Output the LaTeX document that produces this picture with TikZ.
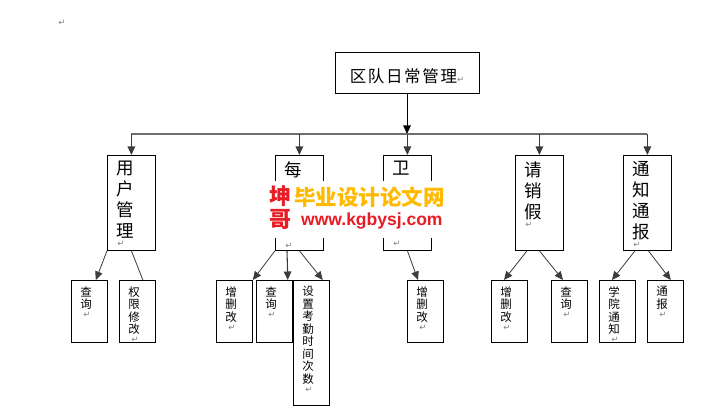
\documentclass[tikz,border=0pt]{standalone}
\usepackage{fontspec}
\usetikzlibrary{arrows.meta,calc}
\newfontfamily\cjk{Noto Sans CJK SC}
\newfontfamily\cjkroot{Noto Sans CJK SC}[LetterSpace=10]
\newfontfamily\retfont{DejaVu Sans}
\newfontfamily\sitefont{Liberation Sans}
\definecolor{busgray}{RGB}{110,110,110}
\definecolor{linkgray}{RGB}{60,60,60}
\definecolor{wmred}{RGB}{232,28,36}
\definecolor{wmyellow}{RGB}{255,186,0}
\newcommand{\retmark}{{\retfont\fontsize{8.5}{8.5}\selectfont\color{gray}↵}}
\newcommand{\lvtwo}{\cjk\fontsize{17.5}{21}\selectfont}
\newcommand{\lvthree}{\cjk\fontsize{11.5}{12.5}\selectfont}
\newcommand{\colbox}[4]{\parbox[c][#2][t]{#1}{\vspace*{#3}\leftskip=9pt\relax #4}}
\newcommand{\twobox}[1]{\colbox{48pt}{95pt}{6pt}{\lvtwo #1\\[-12pt]\hspace*{1pt}\retmark}}
\newcommand{\threebox}[2]{\colbox{36pt}{#1}{6pt}{\lvthree #2\\[-3.5pt]\hspace*{3pt}\retmark}}

\begin{document}
\begin{tikzpicture}[x=1pt,y=-1pt,
    box/.style={draw, line width=0.8pt, inner sep=0pt, anchor=north west},
    arr/.style={-{Triangle[length=8.5pt,width=7.5pt]}},
    link/.style={linkgray, line width=1.1pt},
    sub/.style={linkgray, line width=0.8pt}]
        \useasboundingbox[fill=white] (0,0) rectangle (716,419);
        \node[text=gray] (mark) at (62,23) {\retmark};
        % top
        \node[draw, line width=0.8pt, minimum width=144pt, minimum height=41pt] (root) at (407,72.5)
            {\raisebox{-10pt}[0pt][0pt]{\cjkroot\fontsize{16.5}{16.5}\selectfont 区队日常管理\retmark}};
        % second row
        \node[box] (user) at (107,155) {\twobox{用\\户\\管\\理}};
        \node[box] (day) at (275,155) {\twobox{每\\\mbox{}\\\mbox{}\\\mbox{}}};
        \node[box] (hyg) at (383,155) {\twobox{卫\\\mbox{}\\\mbox{}\\\mbox{}}};
        \node[box] (leave) at (515,155) {\twobox{请\\销\\假}};
        \node[box] (notice) at (623,155) {\twobox{通\\知\\通\\报}};
        % third row
        \node[box] (uq) at (71,280) {\threebox{62pt}{查\\询}};
        \node[box] (ur) at (119,280) {\threebox{62pt}{权\\限\\修\\改}};
        \node[box] (da) at (216,280) {\threebox{62pt}{增\\删\\改}};
        \node[box] (dq) at (256,280) {\threebox{62pt}{查\\询}};
        \node[box] (ds) at (293,280) {\threebox{125pt}{设\\置\\考\\勤\\时\\间\\次\\数}};
        \node[box] (ha) at (407,280) {\threebox{62pt}{增\\删\\改}};
        \node[box] (la) at (491,280) {\threebox{62pt}{增\\删\\改}};
        \node[box] (lq) at (551,280) {\threebox{62pt}{查\\询}};
        \node[box] (nc) at (599,280) {\threebox{62pt}{学\\院\\通\\知}};
        \node[box] (nr) at (647,280) {\threebox{62pt}{通\\报}};
        % connectors
        \coordinate (bus) at (407,134);
        \coordinate (busl) at (131,134);
        \coordinate (busr) at (647,134);
        \draw[arr, line width=0.8pt] (root.south) -- (bus);
        \draw[busgray, line width=1.5pt] (busl) -- (busr);
        \foreach \n in {user,day,hyg,leave,notice}
            \draw[arr,link] (\n.north |- bus) -- (\n.north);
        \draw[arr,sub] (user.south west) -- ([xshift=-12pt]uq.north east);
        \draw[sub] (user.south) -- ([xshift=5.5pt]ur.north);
        \draw[arr,sub] (day.south west) -- (da.north east);
        \draw[arr,link] ($(day.south west)+(12,0)$) -- ($(dq.north east)+(-5,0)$);
        \draw[arr,sub] (day.south) -- ([xshift=-7pt]ds.north east);
        \draw[arr,sub] (hyg.south) -- ([xshift=11pt]ha.north west);
        \draw[arr,sub] ([xshift=12pt]leave.south west) -- ([xshift=13pt]la.north west);
        \draw[arr,sub] (leave.south) -- ([xshift=12pt]lq.north west);
        \draw[arr,sub] ([xshift=12pt]notice.south west) -- ([xshift=13pt]nc.north west);
        \draw[arr,sub] ([xshift=1pt]notice.south) -- ([xshift=-13pt]nr.north east);
        % watermark
        \fill[white] (266,181) rectangle (448,238);
        \node[anchor=base west, inner sep=0pt, text=wmred, font=\cjk\bfseries\fontsize{22}{22}\selectfont] (kun) at (269,205) {坤};
        \node[anchor=base west, inner sep=0pt, text=wmred, font=\cjk\bfseries\fontsize{22}{22}\selectfont] (ge) at (269,228) {哥};
        \node[anchor=base west, inner sep=0pt, text=wmyellow, font=\cjk\bfseries\fontsize{21.5}{21.5}\selectfont] (site) at (294,206) {毕业设计论文网};
        \node[anchor=base west, inner sep=0pt, text=wmred, font=\sitefont\bfseries\fontsize{17.5}{17.5}\selectfont] (url) at (301,226) {www.kgbysj.com};
        \end{tikzpicture}
\end{document}
